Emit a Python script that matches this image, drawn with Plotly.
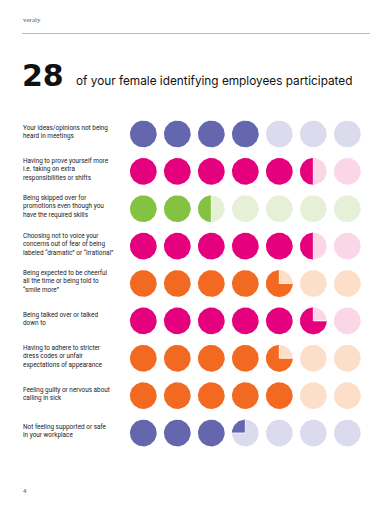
import numpy as np
import plotly.graph_objects as go

# ---------------- data ----------------
categories = [
    "Your ideas/opinions not being<br>heard in meetings",
    "Having to prove yourself more<br>i.e. taking on extra<br>responsibilities or shifts",
    "Being skipped over for<br>promotions even though you<br>have the required skills",
    "Choosing not to voice your<br>concerns out of fear of being<br>labeled \u201cdramatic\u201d or \u201cirrational\u201d",
    "Being expected to be cheerful<br>all the time or being told to<br>\u201csmile more\u201d",
    "Being talked over or talked<br>down to",
    "Having to adhere to stricter<br>dress codes or unfair<br>expectations of appearance",
    "Feeling guilty or nervous about<br>calling in sick",
    "Not feeling supported or safe<br>in your workplace",
]
values = [4, 5.5, 2.5, 5.5, 4.75, 5.75, 4.75, 5, 3.25]
dark_colors = ["#6467AE", "#E5007E", "#84C342", "#E5007E", "#F26A22",
               "#E5007E", "#F26A22", "#F26A22", "#6467AE"]
light_colors = ["#DCDBEE", "#FAD6E6", "#E5F0D7", "#FAD6E6", "#FDDEC8",
                "#FAD6E6", "#FDDEC8", "#FDDEC8", "#DCDBEE"]
n_circles = 7
headline_number = "28"
headline_text = "of your female identifying employees participated"
brand = "veraly"
page_number = "4"

# ---------------- layout geometry ----------------
# the page body has an 8px margin, so the figure is sized to fit inside it
OFF = 8
W, H = 384, 492


def px2x(px):
    return (px - OFF) / W


def px2y(py):
    return 1 - (py - OFF) / H


grid_left, grid_right = 126.3, 364.3
grid_top, grid_bottom = 115.3, 451.7
n_rows = len(values)
px_x = (grid_right - grid_left) / n_circles
px_y = (grid_bottom - grid_top) / n_rows
r_px = 13.4
rx, ry = r_px / px_x, r_px / px_y


def wedge(cx, cy, frac, npts=72):
    if frac >= 1:
        t = np.linspace(0, 2 * np.pi, npts)
        xs = cx + rx * np.cos(t)
        ys = cy - ry * np.sin(t)
        return list(xs), list(ys)
    t = np.linspace(np.pi / 2, np.pi / 2 + 2 * np.pi * frac, max(8, int(npts * frac)))
    xs = [cx] + list(cx + rx * np.cos(t)) + [cx]
    ys = [cy] + list(cy - ry * np.sin(t)) + [cy]
    return xs, ys


fig = go.Figure()
for i, (v, dc, lc) in enumerate(zip(values, dark_colors, light_colors)):
    row = i + 1
    lx, ly, dx, dy, ex, ey = [], [], [], [], [], []
    for j in range(n_circles):
        col = j + 1
        frac = min(max(v - j, 0), 1)
        if frac < 1:
            xs, ys = wedge(col, row, 1)
            lx += xs + [None]
            ly += ys + [None]
        if frac > 0:
            xs, ys = wedge(col, row, frac)
            dx += xs + [None]
            dy += ys + [None]
            if frac < 1:
                ex += [xs[1], col, xs[-2], None]
                ey += [ys[1], row, ys[-2], None]
    fig.add_trace(go.Scatter(x=lx, y=ly, mode="lines", fill="toself",
                             fillcolor=lc, line=dict(width=0, color=lc),
                             hoverinfo="skip"))
    fig.add_trace(go.Scatter(x=dx, y=dy, mode="lines", fill="toself",
                             fillcolor=dc, line=dict(width=0, color=dc),
                             hoverinfo="skip"))
    if ex:
        fig.add_trace(go.Scatter(x=ex, y=ey, mode="lines",
                                 line=dict(width=0.8, color="white"),
                                 hoverinfo="skip"))
    fig.add_annotation(x=px2x(21), xref="paper", y=row, yref="y",
                       text=categories[i], showarrow=False, align="left",
                       xanchor="left", yanchor="middle", yshift=2,
                       font=dict(family="Roboto", size=6.4, color="#222222"))

fig.add_annotation(x=px2x(21), xref="paper", y=px2y(20), yref="paper",
                   text=brand, showarrow=False, xanchor="left", yanchor="middle",
                   font=dict(family="Liberation Serif", size=7, color="#555555"))
fig.add_shape(type="line", xref="paper", yref="paper",
              x0=px2x(22), x1=px2x(370), y0=px2y(33.5), y1=px2y(33.5),
              line=dict(color="#BDBDBD", width=1))
fig.add_annotation(x=px2x(20), xref="paper", y=px2y(76), yref="paper",
                   text="<b>" + headline_number + "</b>", showarrow=False,
                   xanchor="left", yanchor="middle",
                   font=dict(family="DejaVu Sans", size=30, color="#111111"))
fig.add_annotation(x=px2x(74), xref="paper", y=px2y(81), yref="paper",
                   text=headline_text, showarrow=False,
                   xanchor="left", yanchor="middle",
                   font=dict(family="Inter", size=11.8, color="#111111"))
fig.add_annotation(x=px2x(21), xref="paper", y=px2y(490), yref="paper",
                   text=page_number, showarrow=False,
                   xanchor="left", yanchor="middle",
                   font=dict(family="Roboto", size=6, color="#555555"))

fig.update_layout(
    width=W, height=H, margin=dict(l=0, r=0, t=0, b=0),
    paper_bgcolor="white", plot_bgcolor="white", showlegend=False,
    xaxis=dict(range=[0.5, n_circles + 0.5],
               domain=[px2x(grid_left), px2x(grid_right)],
               visible=False, fixedrange=True),
    yaxis=dict(range=[n_rows + 0.5, 0.5],
               domain=[px2y(grid_bottom), px2y(grid_top)],
               visible=False, fixedrange=True),
)
fig.write_html("out.html")
